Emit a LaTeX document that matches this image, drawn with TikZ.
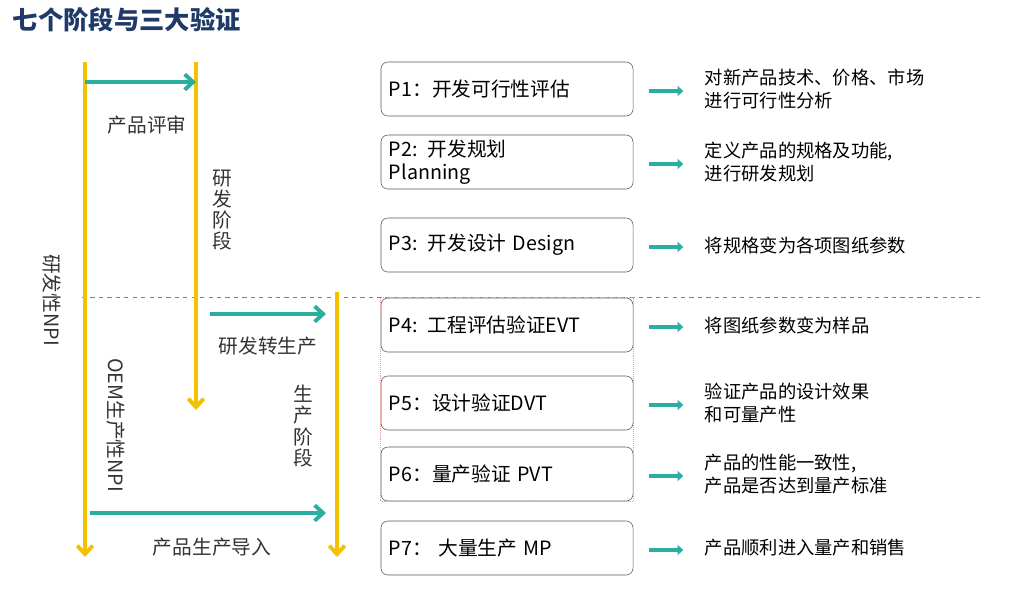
\documentclass[tikz,border=0pt]{standalone}
\usepackage{fontspec}
\setmainfont{Noto Sans CJK SC}
\usepackage{xcolor}
\definecolor{stageyellow}{HTML}{F2C100}
\definecolor{stageteal}{HTML}{2BAE9F}
\definecolor{titleblue}{HTML}{1F3A68}
\definecolor{dashred}{HTML}{D06060}
\usetikzlibrary{arrows.meta, positioning, calc}
\tikzset{
  phase/.style={draw=gray!70!black, rounded corners=5pt, minimum width=6.3cm,
    minimum height=1.35cm, text width=5.9cm, align=left, font=\fontsize{14}{16}\selectfont},
  note/.style={anchor=west, align=left, font=\fontsize{13}{16}\selectfont},
  lbl/.style={font=\fontsize{14}{15}\selectfont, text=black!80},
  yarrow/.style={-{Straight Barb[length=6pt,width=11pt]}, stageyellow, line width=2.8pt},
  tarrow/.style={-{Straight Barb[length=6pt,width=11pt]}, stageteal, line width=2.8pt},
  small/.style={-{Triangle[length=4pt,width=7pt]}, stageteal, line width=2.5pt},
}
\begin{document}
\begin{tikzpicture}[x=0.025cm, y=-0.025cm]
        \useasboundingbox (0,0) rectangle (1024,601);
        % Title
        \node[anchor=west, font=\fontsize{18}{20}\bfseries\selectfont, text=titleblue]
          (title) at (8,20) {七个阶段与三大验证};
        % Phase boxes
        \node[phase] (p1) at (507,89)  {P1：开发可行性评估};
        \node[phase] (p2) at (507,162) {P2: 开发规划\\Planning};
        \node[phase] (p3) at (507,245) {P3: 开发设计 Design};
        \node[phase] (p4) at (507,325) {P4: 工程评估验证EVT};
        \node[phase] (p5) at (507,403) {P5：设计验证DVT};
        \node[phase] (p6) at (507,474) {P6：量产验证 PVT};
        \node[phase] (p7) at (507,548) {P7：  大量生产 MP};
        % Divider and verification frame
        \draw[dashred, dashed, thin] (82,297) -- (980,297);
        \draw[dashred!60, thin, densely dotted] (p4.north west) rectangle (p6.south east);
        % Descriptions
        \foreach \n/\y/\t in {1/89/{对新产品技术、价格、市场\\进行可行性分析},
                              2/162/{定义产品的规格及功能,\\进行研发规划},
                              3/245/{将规格变为各项图纸参数},
                              4/325/{将图纸参数变为样品},
                              5/403/{验证产品的设计效果\\和可量产性},
                              6/474/{产品的性能一致性,\\产品是否达到量产标准},
                              7/548/{产品顺利进入量产和销售}} {
          \node[note] (d\n) at (700,\y) {\t};
          \draw[small] (p\n.east) ++(16,2) coordinate (s\n) -- ++(34,0) coordinate (e\n);
        }
        % Stage arrows
        \coordinate (npiTop) at (85,62);   \coordinate (npiEnd) at (85,557);
        \coordinate (rdTop) at (196,62);   \coordinate (rdEnd) at (196,410);
        \coordinate (mfTop) at (337,292);  \coordinate (mfEnd) at (337,557);
        \draw[yarrow] (npiTop) -- (npiEnd);
        \draw[yarrow] (rdTop) -- (rdEnd);
        \draw[yarrow] (mfTop) -- (mfEnd);
        \coordinate (revA) at (85,82);   \coordinate (revB) at (196,82);
        \coordinate (trA) at (210,314);  \coordinate (trB) at (326,314);
        \coordinate (inA) at (90,513);   \coordinate (inB) at (326,513);
        \draw[tarrow] (revA) -- (revB);
        \draw[tarrow] (trA) -- (trB);
        \draw[tarrow] (inA) -- (inB);
        % Stage labels
        \node[lbl] (review) at (147,125) {产品评审};
        \node[lbl, align=center] (rdStage) at (222,210) {研\\发\\阶\\段};
        \node[lbl, rotate=-90] (rdNpi) at (52,300) {研发性NPI};
        \node[lbl] (transfer) at (268,346) {研发转生产};
        \node[lbl, rotate=-90] (oemNpi) at (116,425) {OEM生产性NPI};
        \node[lbl, align=center] (mfStage) at (303,426) {生\\产\\阶\\段};
        \node[lbl] (intro) at (212,547) {产品生产导入};
      \end{tikzpicture}
\end{document}
